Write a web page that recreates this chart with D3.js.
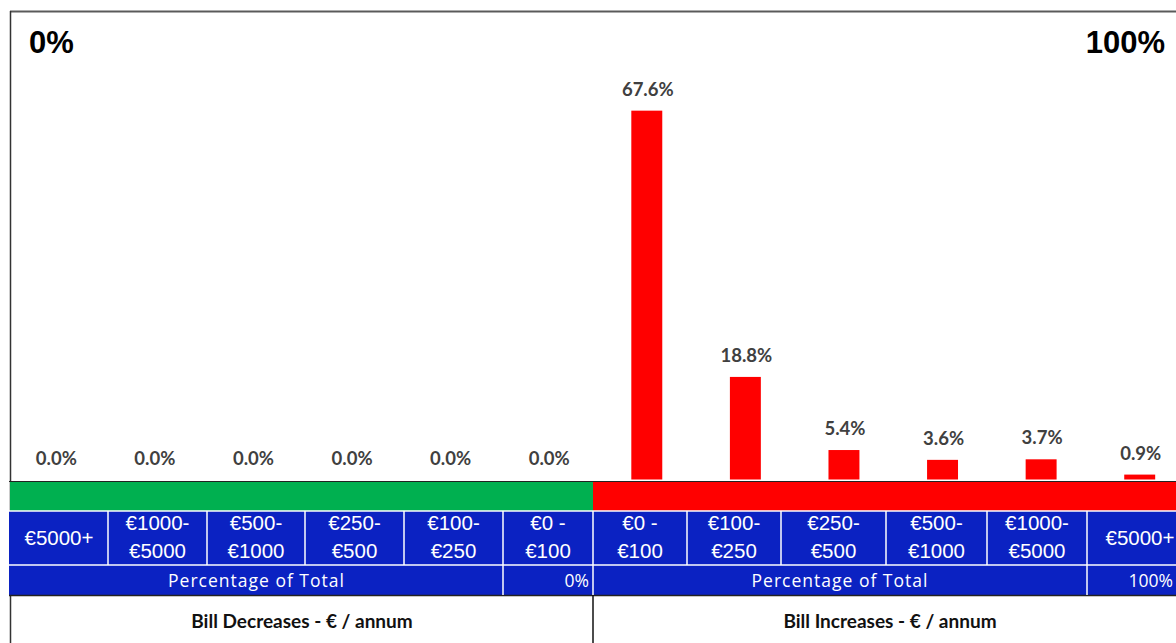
<!DOCTYPE html>
<html><head><meta charset="utf-8">
<script src="https://cdn.jsdelivr.net/npm/d3@7"></script>
<style>html,body{margin:0;padding:0;background:#fff;overflow:hidden}</style>
</head><body>
<svg id="c" width="1176" height="643"></svg>
<script>
// ---- data ----
const binLabels = ["€5000+","€1000-\n€5000","€500-\n€1000","€250-\n€500","€100-\n€250","€0 -\n€100",
                   "€0 -\n€100","€100-\n€250","€250-\n€500","€500-\n€1000","€1000-\n€5000","€5000+"];
const values = [0.0,0.0,0.0,0.0,0.0,0.0,67.6,18.8,5.4,3.6,3.7,0.9];
const sideLabels = ["Bill Decreases - € / annum","Bill Increases - € / annum"];
const sideTotals = ["0%","100%"];
const totalRowLabel = "Percentage of Total";
const cornerLabels = ["0%","100%"];

// ---- layout ----
const W = 1176, H = 643;
const colEdges = [10,108,207,305,404,503,593,687,781,886,987,1087,1193];
const midX = 593;
const strip = {y0:481, y1:511}, row1 = {y0:511, y1:565}, row2 = {y0:565, y1:595};
const BLUE = "#0b22c2", GREEN = "#00b050", RED = "#ff0000";

const svg = d3.select("#c");

const x = d3.scaleBand().domain(d3.range(values.length)).range([6, 1189])
  .paddingInner(0.686).paddingOuter(0.343);
const y = d3.scaleLinear().domain([0, 80]).range([479.5, 43]);

// frame
svg.append("line").attr("x1",10).attr("x2",W).attr("y1",11.5).attr("y2",11.5)
  .attr("stroke","#5a5a5a").attr("stroke-width",2);
svg.append("line").attr("x1",10.5).attr("x2",10.5).attr("y1",11).attr("y2",H)
  .attr("stroke","#333").attr("stroke-width",1.5);

// corner labels
svg.append("text").attr("x",29).attr("y",53).text(cornerLabels[0])
  .attr("font-family","Liberation Sans, Arial").attr("font-weight","bold").attr("font-size",31).attr("fill","#000");
svg.append("text").attr("x",1165).attr("y",53).attr("text-anchor","end").text(cornerLabels[1])
  .attr("font-family","Liberation Sans, Arial").attr("font-weight","bold").attr("font-size",31).attr("fill","#000");

// bars
svg.append("g").selectAll("rect").data(values).join("rect")
  .attr("x",(d,i)=>x(i)).attr("width",x.bandwidth())
  .attr("y",d=>y(d)).attr("height",d=>y(0)-y(d)).attr("fill",RED);
svg.append("g").selectAll("text").data(values).join("text")
  .attr("x",(d,i)=>x(i)+x.bandwidth()/2+1).attr("y",d=>y(d)-15)
  .attr("text-anchor","middle").attr("font-family","Lato, Open Sans").attr("font-weight","bold")
  .attr("font-size",18.5).attr("fill","#404040").text(d=>d.toFixed(1)+"%");

// strip
svg.append("rect").attr("x",colEdges[0]).attr("y",strip.y0).attr("width",midX-colEdges[0]).attr("height",strip.y1-strip.y0).attr("fill",GREEN);
svg.append("rect").attr("x",midX).attr("y",strip.y0).attr("width",colEdges[12]-midX).attr("height",strip.y1-strip.y0).attr("fill",RED);
svg.append("line").attr("x1",9).attr("x2",W).attr("y1",strip.y0+0.5).attr("y2",strip.y0+0.5).attr("stroke","#222").attr("stroke-width",1.2);

// blue rows
svg.append("rect").attr("x",9).attr("y",row1.y0).attr("width",colEdges[12]-9).attr("height",row2.y1-row1.y0).attr("fill",BLUE);
svg.append("line").attr("x1",9).attr("x2",W).attr("y1",row2.y1+0.5).attr("y2",row2.y1+0.5).attr("stroke","#222").attr("stroke-width",1.5);

const grid = svg.append("g").attr("stroke","#fff").attr("stroke-width",1.5);
grid.append("line").attr("x1",9).attr("x2",W).attr("y1",row1.y0).attr("y2",row1.y0);
grid.append("line").attr("x1",9).attr("x2",W).attr("y1",row1.y1).attr("y2",row1.y1);
colEdges.slice(1,-1).forEach(e=>{
  grid.append("line").attr("x1",e).attr("x2",e).attr("y1",row1.y0).attr("y2",row1.y1);
});
[503,593,1087].forEach(e=>{
  grid.append("line").attr("x1",e).attr("x2",e).attr("y1",row2.y0).attr("y2",row2.y1);
});

// bin labels
const cellText = svg.append("g").attr("fill","#fff").attr("font-family","Liberation Sans, Arial").attr("font-size",20.5);
binLabels.forEach((lab,i)=>{
  const cx = (colEdges[i]+colEdges[i+1])/2;
  const lines = lab.split("\n");
  const t = cellText.append("text").attr("text-anchor","middle");
  if (lines.length===1) {
    t.attr("x",cx).attr("y",545).text(lines[0]);
  } else {
    t.append("tspan").attr("x",cx).attr("y",530).text(lines[0]);
    t.append("tspan").attr("x",cx).attr("y",558).text(lines[1]);
  }
});

// percentage row
const r2 = svg.append("g").attr("fill","#fff").attr("font-family","Open Sans, Lato").attr("font-size",17.5);
r2.append("text").attr("x",(10+503)/2).attr("y",587).attr("text-anchor","middle").attr("letter-spacing",1).text(totalRowLabel);
r2.append("text").attr("x",(593+1087)/2).attr("y",587).attr("text-anchor","middle").attr("letter-spacing",1).text(totalRowLabel);
r2.append("text").attr("x",589).attr("y",587).attr("text-anchor","end").text(sideTotals[0]);
r2.append("text").attr("x",1173).attr("y",587).attr("text-anchor","end").text(sideTotals[1]);

// bottom row
svg.append("line").attr("x1",midX).attr("x2",midX).attr("y1",row2.y1).attr("y2",H).attr("stroke","#111").attr("stroke-width",1.5);
const b = svg.append("g").attr("font-family","Lato, Open Sans").attr("font-weight","bold").attr("font-size",19).attr("fill","#111");
b.append("text").attr("x",302).attr("y",628).attr("text-anchor","middle").text(sideLabels[0]);
b.append("text").attr("x",890).attr("y",628).attr("text-anchor","middle").text(sideLabels[1]);
</script>
</body></html>
